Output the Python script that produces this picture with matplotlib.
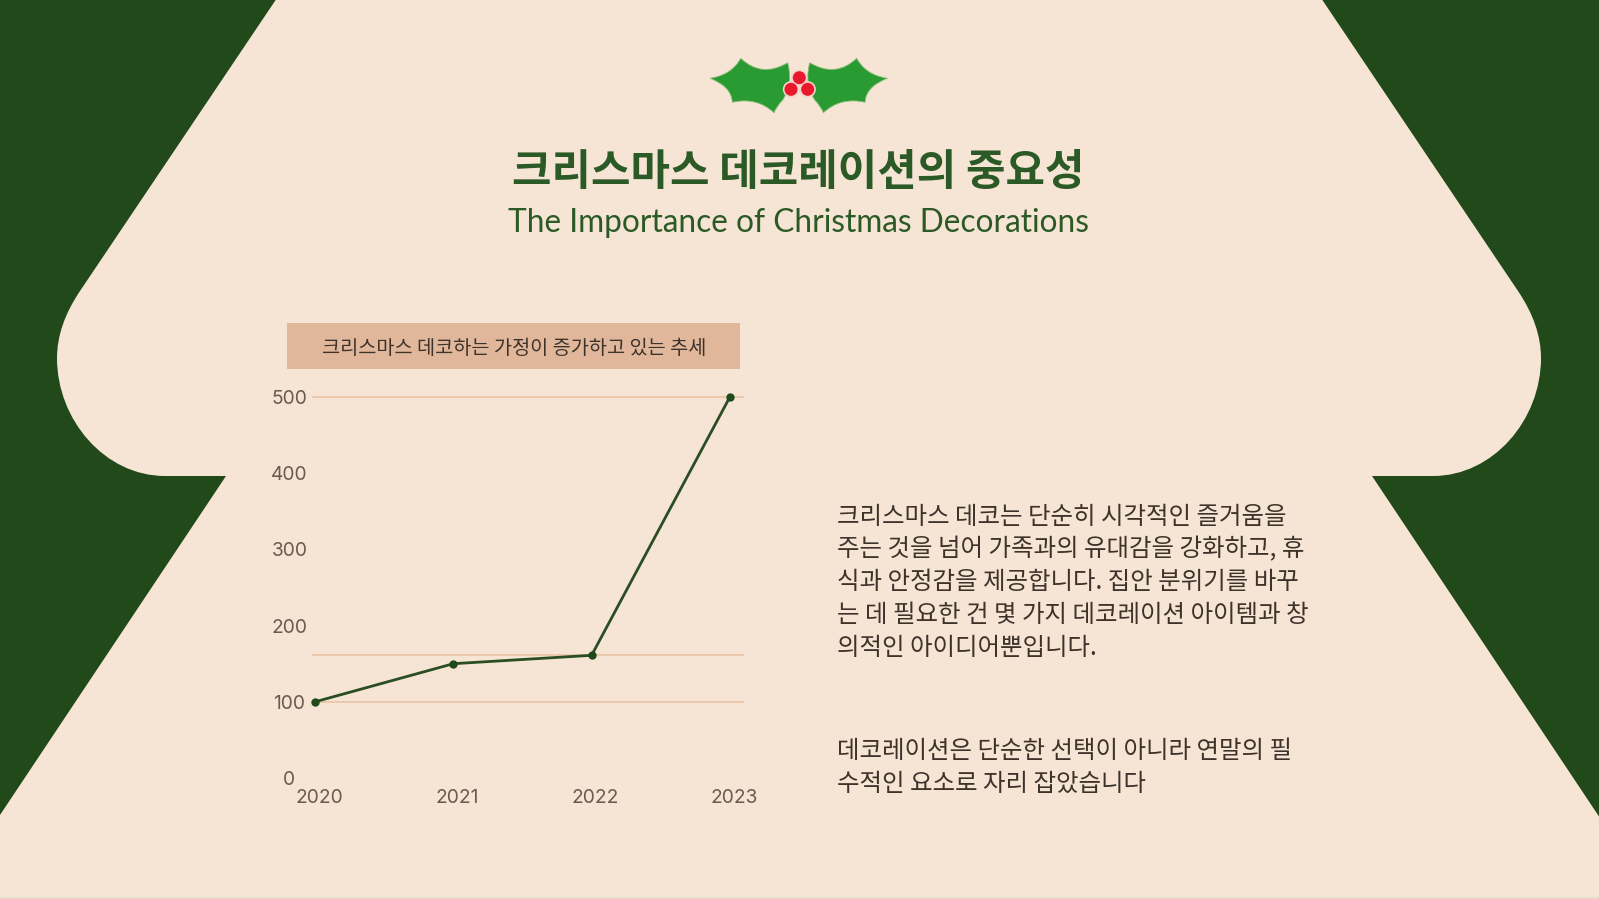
import numpy as np
import matplotlib
matplotlib.use('Agg')
import matplotlib.pyplot as plt
from matplotlib.patches import PathPatch, Rectangle, Circle
from matplotlib.path import Path
from matplotlib.transforms import ScaledTranslation

plt.rcParams['font.family'] = ['Noto Sans CJK KR', 'DejaVu Sans']

W, H = 1599, 899
BG = '#F6E5D4'
DARK = '#21491A'
TITLE = '#2B5A26'
TAN = '#E0B79B'
GRID = '#E8C4A6'
LINE = '#2A4D24'
TICK = '#6A5A50'
BODY = '#3E332B'

years = ['2020', '2021', '2022', '2023']
values = [100, 150, 161, 500]
y_ticks = [0, 100, 200, 300, 400, 500]
grid_levels = [100, 161, 500]

chart_title = '크리스마스 데코하는 가정이 증가하고 있는 추세'
title_ko = '크리스마스 데코레이션의 중요성'
title_en = 'The Importance of Christmas Decorations'
para_1 = ['크리스마스 데코는 단순히 시각적인 즐거움을',
          '주는 것을 넘어 가족과의 유대감을 강화하고, 휴',
          '식과 안정감을 제공합니다. 집안 분위기를 바꾸',
          '는 데 필요한 건 몇 가지 데코레이션 아이템과 창',
          '의적인 아이디어뿐입니다.']
para_2 = ['데코레이션은 단순한 선택이 아니라 연말의 필',
          '수적인 요소로 자리 잡았습니다']

fig = plt.figure(figsize=(W / 100, H / 100), dpi=100, facecolor=DARK)

# background layer in pixel coords, y down
bg = fig.add_axes([0, 0, 1, 1])
bg.set_xlim(0, W)
bg.set_ylim(H, 0)
bg.axis('off')

# tree outline, left side then the same points mirrored and reversed
verts = [(277, -2), (80, 291),
         (57, 325), (57, 358), (57, 420), (105, 476), (165, 476),
         (226, 476), (-2, 818), (-2, 901)]
codes = [Path.MOVETO, Path.LINETO,
         Path.CURVE3, Path.CURVE3, Path.CURVE4, Path.CURVE4, Path.CURVE4,
         Path.LINETO, Path.LINETO, Path.LINETO]
mirror = [(1598 - x, y) for x, y in verts]
all_verts = verts + mirror[::-1] + [verts[0]]
all_codes = codes + [Path.LINETO, Path.LINETO, Path.LINETO, Path.LINETO,
                     Path.CURVE4, Path.CURVE4, Path.CURVE4,
                     Path.CURVE3, Path.CURVE3, Path.LINETO, Path.CLOSEPOLY]
bg.add_patch(PathPatch(Path(all_verts, all_codes), fc=BG, ec='none'))
bg.add_patch(Rectangle((0, 897), W, 2, fc='#E9DACA', ec='none'))

# holly leaves, each spike joined by a curved notch
leaf = [(710, 78.3), (731.7, 75), (740.7, 58.3), (761.7, 78.3), (787.7, 62.7),
        (793.3, 83.3), (782.7, 100), (776.7, 106), (774, 112.7), (756.7, 96.7),
        (732.3, 102.3), (731.7, 86.7), (710, 78.3)]
leaf_codes = [Path.MOVETO] + [Path.CURVE3] * 12
green = '#2A9A33'
bg.add_patch(PathPatch(Path(leaf, leaf_codes), fc=green, ec='#8CBF7A', lw=0.6))
right_leaf = [(1597.4 - x, y) for x, y in leaf]
bg.add_patch(PathPatch(Path(right_leaf, leaf_codes), fc=green, ec='#8CBF7A', lw=0.6))
berries = [(799.3, 77.7), (791, 89.3), (807.7, 89.3)]
for cx, cy in berries:
    bg.add_patch(Circle((cx, cy), 8.2, fc='#F4D5C8', ec='none'))
for cx, cy in berries:
    bg.add_patch(Circle((cx, cy), 6.5, fc='#E8192C', ec='none'))

bg.text(798, 172, title_ko, ha='center', va='center', fontsize=30.9, fontweight='bold', color=TITLE)
bg.text(798, 223, title_en, ha='center', va='center', fontsize=22.8,
        family=['Lato', 'Liberation Sans'], color=TITLE)

bg.add_patch(Rectangle((287, 323), 453, 46, fc=TAN, ec='none'))
bg.text(514, 349, chart_title, ha='center', va='center', fontsize=14.2, color=BODY)

for i, s in enumerate(para_1):
    bg.text(837, 517 + i * 32.7, s, ha='left', va='center', fontsize=17.65, color=BODY)
for i, s in enumerate(para_2):
    bg.text(837, 751 + i * 32.7, s, ha='left', va='center', fontsize=17.65, color=BODY)

# chart axes, placed so 0 is at y=778 and 500 at y=397
left, right, top, bottom = 313, 743, 397, 778
ax = fig.add_axes([left / W, 1 - bottom / H, (right - left) / W, (bottom - top) / H])
ax.patch.set_alpha(0)
x = np.arange(len(years))
ax.set_xlim(-0.015, 3.095)
ax.set_ylim(0, 500)
for lv in grid_levels:
    ax.axhline(lv, color=GRID, lw=1.2, zorder=1, clip_on=False)
ax.plot(x, values, color=LINE, lw=2, marker='o', ms=5, mfc='#1F4A1A', mec='#1F4A1A',
        zorder=3, clip_on=False)
for s in ax.spines.values():
    s.set_visible(False)
ax.set_xticks(x)
ax.set_xticklabels(years)
ax.set_yticks(y_ticks)
ax.tick_params(length=0, labelsize=13.8, labelcolor=TICK)
ax.tick_params(axis='x', pad=8)
ax.tick_params(axis='y', pad=17)
shift = ScaledTranslation(4 / 100, 0, fig.dpi_scale_trans)
for lab in ax.get_xticklabels():
    lab.set_transform(lab.get_transform() + shift)
    lab.set_family('Inter')
for lab in ax.get_yticklabels():
    lab.set_ha('center')
    lab.set_family('Inter')

fig.savefig('out.png', dpi=100, facecolor=DARK)
